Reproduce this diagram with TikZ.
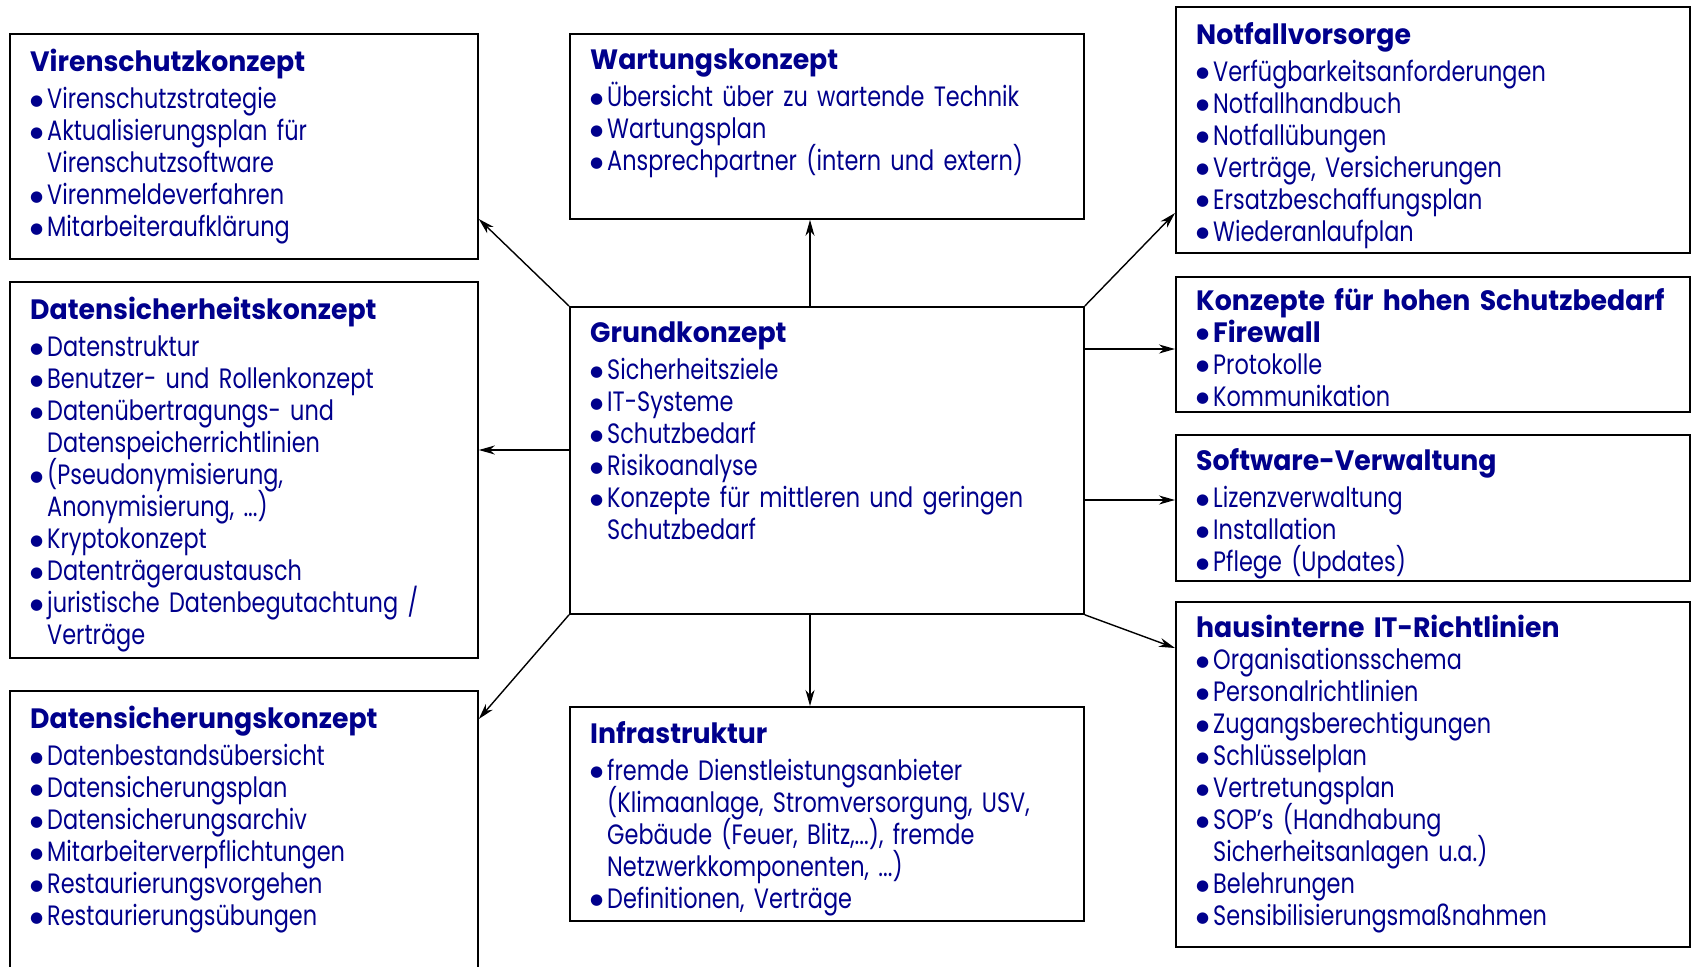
\documentclass[tikz,border=0pt]{standalone}
\usepackage{fontspec}
\setmainfont{Poppins}[FakeStretch=0.80,BoldFeatures={FakeStretch=0.955}]
\newfontfamily\bulletfont{DejaVu Sans}
\usetikzlibrary{arrows.meta,calc}
\definecolor{textblue}{RGB}{0,0,140}
\newcommand\fixskip{\lineskiplimit=-100pt\relax\lineskip=0pt\relax}
\newcommand\ttl[1]{{\bfseries #1}\par\vspace{5pt}}
\newcommand\bi[1]{\par\hangindent=17pt\hangafter=1\noindent\makebox[17pt][l]{\raisebox{3.5pt}{\bulletfont\fontsize{15}{15}\selectfont ●}}#1\par}
\tikzset{
  box/.style={draw=black, line width=1.8pt, anchor=north west, inner sep=0pt},
  txt/.style={text=textblue, align=left, anchor=north west, inner sep=0pt,
    font=\fontsize{28}{32}\selectfont\fixskip},
  arr/.style={line width=1.4pt, -{Stealth[length=16pt,width=9pt,inset=5pt]}}
}
\begin{document}
\begin{tikzpicture}[x=1pt,y=-1pt]
\useasboundingbox (0,0) rectangle (1693,966);
% boxes
\node[box, minimum width=468pt, minimum height=225pt] (vir) at (9,33) {};
\node[box, minimum width=468pt, minimum height=376pt] (dsh) at (9,281) {};
\node[box, minimum width=468pt, minimum height=300pt] (dsg) at (9,690) {};
\node[box, minimum width=514pt, minimum height=185pt] (wart) at (569,33) {};
\node[box, minimum width=514pt, minimum height=307pt] (grund) at (569,306) {};
\node[box, minimum width=514pt, minimum height=214pt] (infra) at (569,706) {};
\node[box, minimum width=514pt, minimum height=246pt] (notf) at (1175,6) {};
\node[box, minimum width=514pt, minimum height=135pt] (hoch) at (1175,276) {};
\node[box, minimum width=514pt, minimum height=146pt] (soft) at (1175,434) {};
\node[box, minimum width=514pt, minimum height=345pt] (haus) at (1175,601) {};
% texts
\node[txt, text width=440pt] (virT) at ([shift={(21,16)}]vir.north west) {%
\ttl{Virenschutzkonzept}
\bi{Virenschutzstrategie}
\bi{Aktualisierungsplan für\newline Virenschutzsoftware}
\bi{Virenmeldeverfahren}
\bi{Mitarbeiteraufklärung}};
\node[txt, text width=440pt] (dshT) at ([shift={(21,16)}]dsh.north west) {%
\ttl{Datensicherheitskonzept}
\bi{Datenstruktur}
\bi{Benutzer- und Rollenkonzept}
\bi{Datenübertragungs- und\newline Datenspeicherrichtlinien}
\bi{(Pseudonymisierung,\newline Anonymisierung, ...)}
\bi{Kryptokonzept}
\bi{Datenträgeraustausch}
\bi{juristische Datenbegutachtung /\newline Verträge}};
\node[txt, text width=440pt] (dsgT) at ([shift={(21,16)}]dsg.north west) {%
\ttl{Datensicherungskonzept}
\bi{Datenbestandsübersicht}
\bi{Datensicherungsplan}
\bi{Datensicherungsarchiv}
\bi{Mitarbeiterverpflichtungen}
\bi{Restaurierungsvorgehen}
\bi{Restaurierungsübungen}};
\node[txt, text width=485pt] (wartT) at ([shift={(21,16)}]wart.north west) {%
\ttl{Wartungskonzept}
\bi{Übersicht über zu wartende Technik}
\bi{Wartungsplan}
\bi{Ansprechpartner (intern und extern)}};
\node[txt, text width=485pt] (grundT) at ([shift={(21,16)}]grund.north west) {%
\ttl{Grundkonzept}
\bi{Sicherheitsziele}
\bi{IT-Systeme}
\bi{Schutzbedarf}
\bi{Risikoanalyse}
\bi{Konzepte für mittleren und geringen\newline Schutzbedarf}};
\node[txt, text width=485pt] (infraT) at ([shift={(21,15)}]infra.north west) {%
\ttl{Infrastruktur}
\bi{fremde Dienstleistungsanbieter\newline (Klimaanlage, Stromversorgung, USV,\newline Gebäude (Feuer, Blitz,...), fremde\newline Netzwerkkomponenten, ...)}
\bi{Definitionen, Verträge}};
\node[txt, text width=485pt] (notfT) at ([shift={(21,16)}]notf.north west) {%
\ttl{Notfallvorsorge}
\bi{Verfügbarkeitsanforderungen}
\bi{Notfallhandbuch}
\bi{Notfallübungen}
\bi{Verträge, Versicherungen}
\bi{Ersatzbeschaffungsplan}
\bi{Wiederanlaufplan}};
\node[txt, text width=485pt] (hochT) at ([shift={(21,12)}]hoch.north west) {%
{\bfseries Konzepte für hohen Schutzbedarf}\par
\bi{{\bfseries Firewall}}
\bi{Protokolle}
\bi{Kommunikation}};
\node[txt, text width=485pt] (softT) at ([shift={(21,14.5)}]soft.north west) {%
\ttl{Software-Verwaltung}
\bi{Lizenzverwaltung}
\bi{Installation}
\bi{Pflege (Updates)}};
\node[txt, text width=485pt] (hausT) at ([shift={(21,14)}]haus.north west) {%
{\bfseries hausinterne IT-Richtlinien}\par
\bi{Organisationsschema}
\bi{Personalrichtlinien}
\bi{Zugangsberechtigungen}
\bi{Schlüsselplan}
\bi{Vertretungsplan}
\bi{SOP’s (Handhabung\newline Sicherheitsanlagen u.a.)}
\bi{Belehrungen}
\bi{Sensibilisierungsmaßnahmen}};
% arrows
\draw[arr] (grund.north west) -- (vir.east |- 0,219);
\draw[arr] (grund.north -| 810,0) -- (wart.south -| 810,0);
\draw[arr] (grund.north east) -- (notf.west |- 0,213);
\draw[arr] (grund.east |- 0,349) -- (hoch.west |- 0,349);
\draw[arr] (grund.east |- 0,500) -- (soft.west |- 0,500);
\draw[arr] (grund.south east) -- (haus.west |- 0,648);
\draw[arr] (grund.south -| 810,0) -- (infra.north -| 810,0);
\draw[arr] (grund.south west) -- (dsg.east |- 0,719);
\draw[arr] (grund.west |- 0,450) -- (dsh.east |- 0,450);
\end{tikzpicture}
\end{document}
